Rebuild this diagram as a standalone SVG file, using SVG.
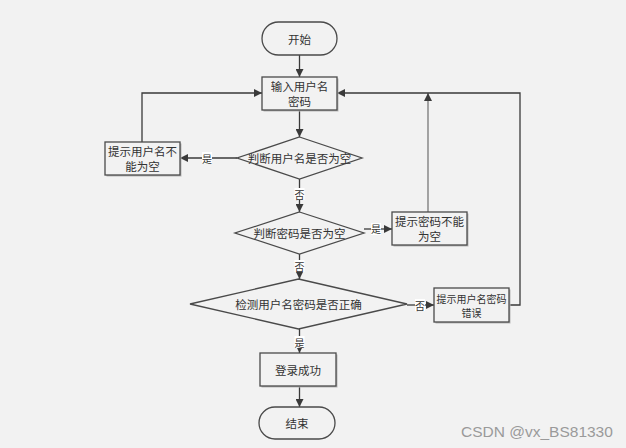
<svg xmlns="http://www.w3.org/2000/svg" width="626" height="448" viewBox="0 0 626 448">
<defs>
<marker id="arr" viewBox="0 0 10 10" refX="10" refY="5" markerWidth="8" markerHeight="8" markerUnits="userSpaceOnUse" orient="auto">
<path d="M0,0 L10,5 L0,10 z" fill="#3a3a3a"/>
</marker>
</defs>
<style>
.bg{fill:#f2f2f2}
.shape{fill:#f2f2f2;stroke:#4a4a4a;stroke-width:1.3}
.shadow{fill:#b8b8b8}
.t{font-family:"Noto Sans CJK SC","Liberation Sans",sans-serif;font-size:11.5px;fill:#333;text-anchor:middle;dominant-baseline:central}
.ts{font-size:10px}
.line{fill:none;stroke:#3a3a3a;stroke-width:1.3;marker-end:url(#arr)}
.lbl{font-family:"Noto Sans CJK SC","Liberation Sans",sans-serif;font-size:10px;fill:#333;text-anchor:middle;dominant-baseline:central}
.lblbg{fill:#ffffff}
.wm{font-family:"Liberation Sans",sans-serif;font-size:15.5px;fill:#9a9a9a}
</style>
<rect class="bg" x="0" y="0" width="626" height="448"/>

<g id="connectors">
<path class="line" d="M299.5,55 V77"/>
<path class="line" d="M299.5,110 V137"/>
<path class="line" d="M237,158 H180"/>
<path class="line" d="M142,142 V93 H262"/>
<path class="line" d="M299.5,179 V212"/>
<path class="line" d="M364,229 H392"/>
<path class="line" style="stroke:#777" d="M428,212 V93"/>
<path class="line" d="M299.5,254 V279"/>
<path class="line" d="M407,305 H434"/>
<path class="line" d="M509,305 H520 V93 H337"/>
<path class="line" d="M299.5,329 V353"/>
<path class="line" d="M299.5,386 V407"/>
<rect class="lblbg" x="202" y="152" width="10" height="12"/>
<text class="lbl" x="207" y="158">是</text>
<rect class="lblbg" x="294.5" y="188" width="10" height="12"/>
<text class="lbl" x="299.5" y="194">否</text>
<rect class="lblbg" x="371" y="223" width="10" height="12"/>
<text class="lbl" x="376" y="228.5">是</text>
<rect class="lblbg" x="294.5" y="260" width="10" height="12"/>
<text class="lbl" x="299.5" y="266">否</text>
<rect class="lblbg" x="415" y="299" width="10" height="12"/>
<text class="lbl" x="420" y="305">否</text>
<rect class="lblbg" x="294.5" y="336" width="10" height="12"/>
<text class="lbl" x="299.5" y="342">是</text>
</g>

<g id="start">
<rect class="shape" x="262" y="22" width="75" height="33" rx="16.5"/>
<text class="t" x="299.5" y="38.5">开始</text>
</g>

<g id="input">
<rect class="shadow" x="263.5" y="78.5" width="75" height="33"/>
<rect class="shape" x="262" y="77" width="75" height="33"/>
<text class="t" x="299.5" y="86">输入用户名</text>
<text class="t" x="299.5" y="101">密码</text>
</g>

<g id="check-user">
<polygon class="shape" points="299.5,137 362,158 299.5,179 237,158"/>
<text class="t" x="299.5" y="158">判断用户名是否为空</text>
</g>

<g id="user-empty">
<rect class="shadow" x="106.5" y="143.5" width="75" height="33"/>
<rect class="shape" x="105" y="142" width="75" height="33"/>
<text class="t" x="142.5" y="150.5">提示用户名不</text>
<text class="t" x="142.5" y="165.5">能为空</text>
</g>

<g id="check-pwd">
<polygon class="shape" points="299.5,212 364,233 299.5,254 235,233"/>
<text class="t" x="299.5" y="233">判断密码是否为空</text>
</g>

<g id="pwd-empty">
<rect class="shadow" x="393.5" y="213.5" width="75" height="33"/>
<rect class="shape" x="392" y="212" width="75" height="33"/>
<text class="t" x="429.5" y="221">提示密码不能</text>
<text class="t" x="429.5" y="236">为空</text>
</g>

<g id="check-correct">
<polygon class="shape" points="298.5,279 407,304 298.5,329 190,304"/>
<text class="t" x="298.5" y="304">检测用户名密码是否正确</text>
</g>

<g id="wrong">
<rect class="shadow" x="435.5" y="289.5" width="75" height="34"/>
<rect class="shape" x="434" y="288" width="75" height="34"/>
<text class="t ts" x="471.5" y="298">提示用户名密码</text>
<text class="t ts" x="471.5" y="312">错误</text>
</g>

<g id="success">
<rect class="shadow" x="261.5" y="354.5" width="76" height="33"/>
<rect class="shape" x="260" y="353" width="76" height="33"/>
<text class="t" x="298" y="369.5">登录成功</text>
</g>

<g id="end">
<rect class="shape" x="259" y="407" width="76" height="32" rx="16"/>
<text class="t" x="297" y="423">结束</text>
</g>

<text class="wm" x="461" y="437">CSDN @vx_BS81330</text>
</svg>
